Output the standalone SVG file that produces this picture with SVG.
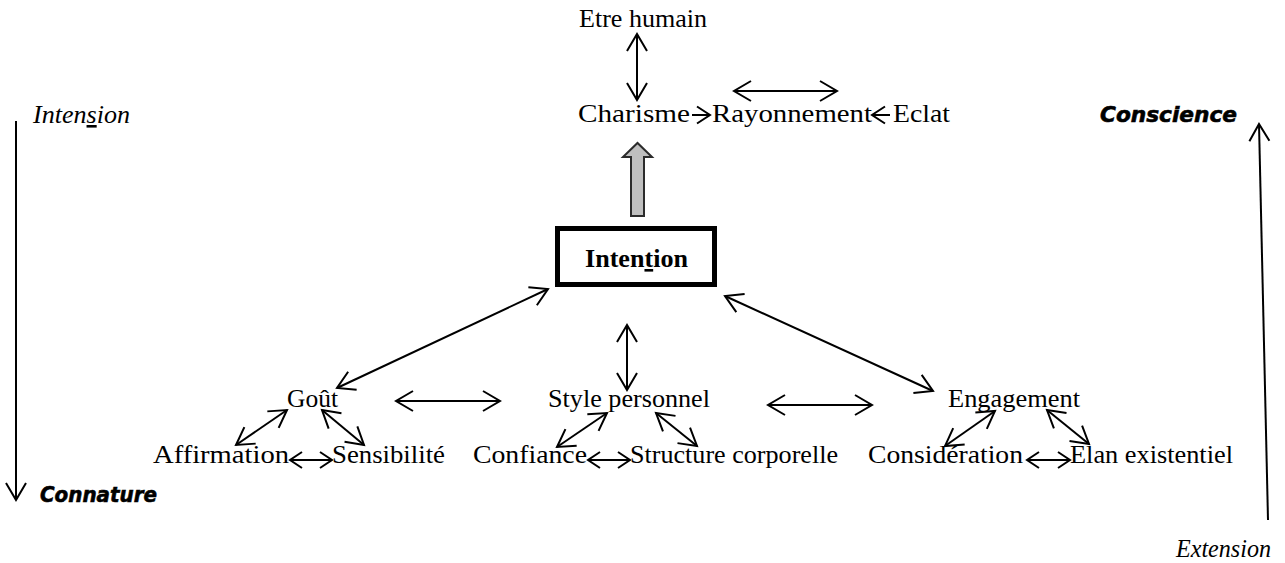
<svg xmlns="http://www.w3.org/2000/svg" width="1285" height="563" viewBox="0 0 1285 563">
  <style>
    .t { font-family: "Liberation Serif", "Times New Roman", serif; font-size: 26px; fill: #000; }
    .it { font-family: "Liberation Serif", "Times New Roman", serif; font-size: 26px; font-style: italic; fill: #000; }
    .deco { font-family: "DejaVu Sans", "Liberation Sans", sans-serif; font-size: 21px; font-weight: bold; font-style: oblique; fill: #000; stroke: #000; stroke-width: 0.6; }
    .main { font-family: "Liberation Serif", "Times New Roman", serif; font-size: 26px; font-weight: bold; fill: #000; }
    .ln { stroke: #000; stroke-width: 2; fill: none; }
    .big { marker-start: url(#hb); marker-end: url(#hb); }
    .sm { marker-start: url(#hs); marker-end: url(#hs); }
  </style>
  <defs>
    <marker id="hb" markerUnits="userSpaceOnUse" markerWidth="40" markerHeight="40" viewBox="-20 -20 40 40" refX="0" refY="0" orient="auto-start-reverse" overflow="visible">
      <path d="M-17,-10 L0,0 L-17,10" fill="none" stroke="#000" stroke-width="2"/>
    </marker>
    <marker id="hs" markerUnits="userSpaceOnUse" markerWidth="40" markerHeight="40" viewBox="-20 -20 40 40" refX="0" refY="0" orient="auto-start-reverse" overflow="visible">
      <path d="M-12,-8 L0,0 L-12,8" fill="none" stroke="#000" stroke-width="2"/>
    </marker>
    <marker id="hm" markerUnits="userSpaceOnUse" markerWidth="40" markerHeight="40" viewBox="-20 -20 40 40" refX="0" refY="0" orient="auto" overflow="visible">
      <path d="M-13,-8.5 L0,0 L-13,8.5" fill="none" stroke="#000" stroke-width="2"/>
    </marker>
  </defs>

  <!-- connectors -->
  <g id="connectors">
    <line class="ln big" x1="637" y1="34" x2="637" y2="100"/>
    <line class="ln" x1="692" y1="115" x2="710" y2="115" marker-end="url(#hm)"/>
    <line class="ln" x1="890" y1="115" x2="872" y2="115" marker-end="url(#hm)"/>
    <line class="ln big" x1="734" y1="91" x2="837" y2="91"/>

    <line class="ln big" x1="548" y1="289" x2="337" y2="388"/>
    <line class="ln big" x1="725" y1="296" x2="933" y2="391"/>
    <line class="ln big" x1="627" y1="325" x2="627" y2="390"/>
    <line class="ln big" x1="396" y1="401" x2="500" y2="401"/>
    <line class="ln big" x1="768" y1="405" x2="872" y2="405"/>

    <line class="ln big" x1="287" y1="410" x2="236" y2="445"/>
    <line class="ln big" x1="322" y1="410" x2="364" y2="445"/>
    <line class="ln sm" x1="290" y1="460" x2="332" y2="460"/>

    <line class="ln big" x1="607" y1="413" x2="557" y2="447"/>
    <line class="ln big" x1="656" y1="413" x2="697" y2="446"/>
    <line class="ln sm" x1="588" y1="460" x2="630" y2="460"/>

    <line class="ln big" x1="995" y1="411" x2="945" y2="446"/>
    <line class="ln big" x1="1047" y1="410" x2="1089" y2="444"/>
    <line class="ln sm" x1="1027" y1="460" x2="1070" y2="460"/>

    <!-- side axes -->
    <line class="ln" x1="16" y1="121" x2="16" y2="500" stroke-width="1.8" marker-end="url(#hb)"/>
    <line class="ln" x1="1268" y1="520" x2="1259" y2="124" stroke-width="1.8" marker-end="url(#hb)"/>
  </g>

  <!-- block arrow pointing up from the central box -->
  <g id="up-arrow">
    <path d="M631,216 L631,157 L623,157 L637.5,143 L652,157 L644,157 L644,216 Z" fill="#bfbfbf" stroke="#2b2b2b" stroke-width="2" stroke-linejoin="miter"/>
  </g>

  <g id="intention">
    <rect x="557.5" y="228.5" width="157" height="56" fill="#fff" stroke="#000" stroke-width="5"/>
    <text class="main" x="585" y="267" textLength="103" lengthAdjust="spacingAndGlyphs">Inten<tspan text-decoration="underline">t</tspan>ion</text>
  </g>

  <g id="etre-humain"><text class="t" x="579" y="27" textLength="128" lengthAdjust="spacingAndGlyphs">Etre humain</text></g>
  <g id="charisme"><text class="t" x="578" y="122" textLength="112" lengthAdjust="spacingAndGlyphs">Charisme</text></g>
  <g id="rayonnement"><text class="t" x="712" y="122" textLength="160" lengthAdjust="spacingAndGlyphs">Rayonnement</text></g>
  <g id="eclat"><text class="t" x="893" y="122" textLength="57" lengthAdjust="spacingAndGlyphs">Eclat</text></g>

  <g id="gout"><text class="t" x="287" y="407" textLength="51" lengthAdjust="spacingAndGlyphs">Goût</text></g>
  <g id="style-personnel"><text class="t" x="548" y="407" textLength="162" lengthAdjust="spacingAndGlyphs">Style personnel</text></g>
  <g id="engagement"><text class="t" x="948" y="407" textLength="132" lengthAdjust="spacingAndGlyphs">Engagement</text></g>

  <g id="affirmation"><text class="t" x="153" y="463" textLength="136" lengthAdjust="spacingAndGlyphs">Affirmation</text></g>
  <g id="sensibilite"><text class="t" x="332" y="463" textLength="113" lengthAdjust="spacingAndGlyphs">Sensibilité</text></g>
  <g id="confiance"><text class="t" x="473" y="463" textLength="114" lengthAdjust="spacingAndGlyphs">Confiance</text></g>
  <g id="structure-corporelle"><text class="t" x="630" y="463" textLength="208" lengthAdjust="spacingAndGlyphs">Structure corporelle</text></g>
  <g id="consideration"><text class="t" x="868" y="463" textLength="155" lengthAdjust="spacingAndGlyphs">Considération</text></g>
  <g id="elan-existentiel"><text class="t" x="1070" y="463" textLength="163" lengthAdjust="spacingAndGlyphs">Elan existentiel</text></g>

  <g id="intension"><text class="it" x="33" y="123" textLength="97" lengthAdjust="spacingAndGlyphs">Inten<tspan text-decoration="underline">s</tspan>ion</text></g>
  <g id="connature"><text class="deco" x="40" y="502" textLength="117" lengthAdjust="spacingAndGlyphs">Connature</text></g>
  <g id="conscience"><text class="deco" x="1100" y="122" textLength="137" lengthAdjust="spacingAndGlyphs">Conscience</text></g>
  <g id="extension"><text class="it" x="1176" y="557" textLength="95" lengthAdjust="spacingAndGlyphs">Extension</text></g>
</svg>
